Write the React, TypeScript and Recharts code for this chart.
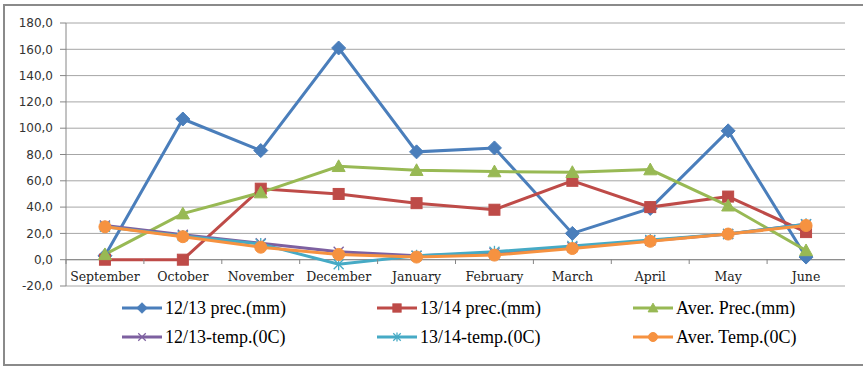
import React from 'react';
import { LineChart, Line, XAxis, YAxis, CartesianGrid, ReferenceLine, Legend } from 'recharts';

// Monthly precipitation (mm) and temperature (°C), September to June
const months = ['September', 'October', 'November', 'December', 'January', 'February', 'March', 'April', 'May', 'June'];
const prec1213 = [3, 107, 83, 161, 82, 85, 20, 39, 98, 2];
const prec1314 = [0, 0, 54, 50, 43, 38, 60, 40, 48, 21];
const avgPrec = [4, 35, 51, 71, 68, 67, 66.5, 68.5, 41, 7];
const temp1213 = [26, 19, 12.5, 6, 3, 5, 9.5, 14.5, 19.5, 27];
const temp1314 = [25, 18, 12, -3.5, 3, 6, 10.5, 15, 19.5, 27];
const avgTemp = [25, 17.5, 9.5, 4, 2, 3.5, 8.5, 14, 19.5, 26];

const yTicks = [-20, 0, 20, 40, 60, 80, 100, 120, 140, 160, 180];

type MarkerKind = 'diamond' | 'square' | 'triangle' | 'cross' | 'star' | 'circle';

const series: { key: string; name: string; color: string; marker: MarkerKind; values: number[] }[] = [
  { key: 'p1213', name: '12/13 prec.(mm)', color: '#4A7EBB', marker: 'diamond', values: prec1213 },
  { key: 'p1314', name: '13/14 prec.(mm)', color: '#BE4B48', marker: 'square', values: prec1314 },
  { key: 'pAvg', name: 'Aver. Prec.(mm)', color: '#98B954', marker: 'triangle', values: avgPrec },
  { key: 't1213', name: '12/13-temp.(0C)', color: '#7D60A0', marker: 'cross', values: temp1213 },
  { key: 't1314', name: '13/14-temp.(0C)', color: '#46AAC5', marker: 'star', values: temp1314 },
  { key: 'tAvg', name: 'Aver. Temp.(0C)', color: '#F69240', marker: 'circle', values: avgTemp },
];

const data = months.map((month, i) => {
  const row: Record<string, string | number> = { month };
  series.forEach((s) => {
    row[s.key] = s.values[i];
  });
  return row;
});

function Marker({ kind, cx, cy, color, s = 1 }: { kind: MarkerKind; cx: number; cy: number; color: string; s?: number }) {
  switch (kind) {
    case 'diamond': {
      const r = 7 * s;
      return <path d={`M${cx},${cy - r}L${cx + r},${cy}L${cx},${cy + r}L${cx - r},${cy}Z`} fill={color} stroke={color} />;
    }
    case 'square': {
      const r = 5.5 * s;
      return <rect x={cx - r} y={cy - r} width={2 * r} height={2 * r} fill={color} stroke={color} />;
    }
    case 'triangle': {
      const r = 6.5 * s;
      return <path d={`M${cx},${cy - r}L${cx + r},${cy + r * 0.8}L${cx - r},${cy + r * 0.8}Z`} fill={color} stroke={color} />;
    }
    case 'cross': {
      const r = 5 * s;
      return (
        <g stroke={color} strokeWidth={1.3}>
          <line x1={cx - r} y1={cy - r} x2={cx + r} y2={cy + r} />
          <line x1={cx - r} y1={cy + r} x2={cx + r} y2={cy - r} />
        </g>
      );
    }
    case 'star': {
      const r = 5 * s;
      return (
        <g stroke={color} strokeWidth={1.3}>
          <line x1={cx - r} y1={cy - r} x2={cx + r} y2={cy + r} />
          <line x1={cx - r} y1={cy + r} x2={cx + r} y2={cy - r} />
          <line x1={cx} y1={cy - r * 1.2} x2={cx} y2={cy + r * 1.2} />
        </g>
      );
    }
    default:
      return <circle cx={cx} cy={cy} r={6 * s} fill={color} stroke={color} />;
  }
}

const makeDot = (kind: MarkerKind, color: string) => (props: any) => {
  if (props.cx == null || props.cy == null) return <g key={`${kind}-${props.index}`} />;
  return (
    <g key={`${kind}-${props.index}`}>
      <Marker kind={kind} cx={props.cx} cy={props.cy} color={color} />
    </g>
  );
};

// Category labels sit just below the zero line; boundary ticks hang from it
function MonthTick(props: any) {
  const { x, y, payload } = props;
  const half = payload && payload.offset ? payload.offset : 39;
  return (
    <g>
      <line x1={x - half} y1={y - 27} x2={x - half} y2={y - 22} stroke="#868686" />
      <text
        x={x}
        y={y - 10}
        textAnchor="middle"
        dominantBaseline="central"
        fontFamily='"DejaVu Serif", serif'
        fontSize={12.5}
        fill="#222"
      >
        {payload.value}
      </text>
    </g>
  );
}

const legendCols = [122, 377, 633];

function LegendBox() {
  return (
    <div style={{ position: 'relative', width: 863, height: 60 }}>
      {series.map((s, i) => {
        const col = i % 3;
        const row = Math.floor(i / 3);
        return (
          <div
            key={s.key}
            style={{
              position: 'absolute',
              left: legendCols[col],
              top: row * 29,
              height: 22,
              display: 'flex',
              alignItems: 'center',
              whiteSpace: 'nowrap',
            }}
          >
            <svg width={40} height={16} style={{ display: 'block' }}>
              <line x1={0} y1={8} x2={40} y2={8} stroke={s.color} strokeWidth={3} />
              <Marker kind={s.marker} cx={20} cy={8} color={s.color} s={0.75} />
            </svg>
            <span
              style={{
                fontFamily: '"Liberation Serif", "Times New Roman", serif',
                fontSize: 18,
                marginLeft: 3,
                color: '#000',
                lineHeight: '22px',
              }}
            >
              {s.name}
            </span>
          </div>
        );
      })}
    </div>
  );
}

export default function App() {
  return (
    <div style={{ position: 'absolute', left: 0, top: 0, width: 863, height: 369, overflow: 'hidden', background: '#fff' }}>
      <div
        style={{
          position: 'absolute',
          left: 3,
          top: 4,
          width: 900,
          height: 362,
          border: '2px solid #8a8a8a',
          boxSizing: 'border-box',
        }}
      />
      <LineChart width={863} height={369} data={data} margin={{ top: 23, right: 18, left: 0, bottom: 0 }}>
        <CartesianGrid vertical={false} stroke="#a6a6a6" />
        <XAxis
          dataKey="month"
          scale="band"
          interval={0}
          axisLine={false}
          tickLine={false}
          tickSize={0}
          tickMargin={0}
          height={23}
          tick={<MonthTick />}
        />
        <YAxis
          domain={[-20, 180]}
          ticks={yTicks}
          interval={0}
          width={66}
          tickSize={6}
          tickMargin={7}
          tickFormatter={(v: number) => v.toFixed(1).replace('.', ',')}
          tick={{ fontFamily: '"DejaVu Sans", sans-serif', fontSize: 12, fill: '#333' }}
          axisLine={{ stroke: '#868686' }}
          tickLine={{ stroke: '#868686' }}
        />
        <YAxis
          yAxisId="frame"
          orientation="right"
          width={0}
          domain={[-20, 180]}
          tick={false}
          tickLine={false}
          axisLine={{ stroke: '#6e6e6e' }}
        />
        <ReferenceLine y={0} stroke="#868686" />
        {series.map((s) => (
          <Line
            key={s.key}
            type="linear"
            dataKey={s.key}
            name={s.name}
            stroke={s.color}
            strokeWidth={3}
            dot={makeDot(s.marker, s.color)}
            activeDot={false}
            isAnimationActive={false}
          />
        ))}
        <Legend
          verticalAlign="bottom"
          content={<LegendBox />}
          wrapperStyle={{ left: 0, top: 297, bottom: 'auto', width: 863 }}
        />
      </LineChart>
    </div>
  );
}
